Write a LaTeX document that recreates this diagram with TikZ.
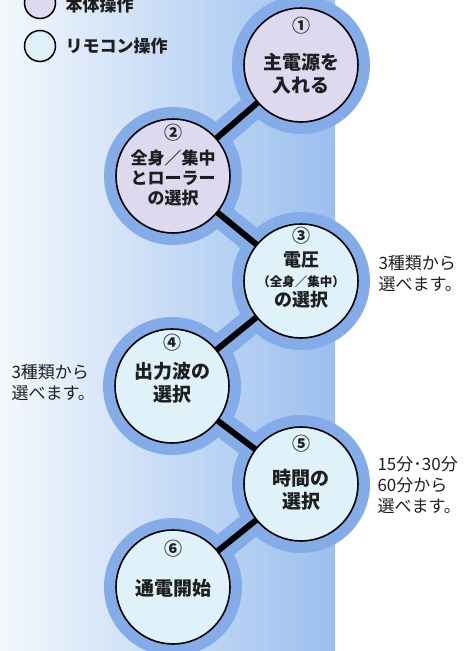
\documentclass[tikz,border=0pt]{standalone}
\usepackage{fontspec}
\setmainfont{Noto Sans CJK JP}
\definecolor{ringblue}{HTML}{84ACE8}
\definecolor{bgright}{HTML}{9BBFEE}
\definecolor{bgleft}{HTML}{F4F8FD}
\definecolor{lav}{HTML}{DDD9EF}
\definecolor{cyanf}{HTML}{DFF2FA}
\definecolor{ink}{HTML}{1E1E1E}
\tikzset{
  ring/.style={circle, fill=ringblue, minimum size=138pt, inner sep=0pt},
  band/.style={ringblue, line width=26pt},
  conn/.style={black, line width=6pt},
  stepcircle/.style={circle, draw=black, line width=1.6pt, minimum size=114pt, inner sep=0pt},
  body/.style={circle, stepcircle, fill=lav},
  remote/.style={circle, stepcircle, fill=cyanf},
  legendbox/.style={circle, draw=black, line width=1.5pt, minimum size=31pt, inner sep=0pt},
  num/.style={text=ink, font=\bfseries\fontsize{18}{18}\selectfont},
  ctext/.style={text=ink, align=center, font=\bfseries\fontsize{19}{23}\selectfont},
  side/.style={text=ink, align=left, anchor=west, font=\fontsize{17}{21}\selectfont},
  legtext/.style={text=ink, anchor=west, font=\bfseries\fontsize{17}{20}\selectfont}
}
\begin{document}
\begin{tikzpicture}[x=1pt,y=-1pt]
\useasboundingbox (0,0) rectangle (470,651);
\shade[left color=bgleft, right color=bgright] (0,0) rectangle (335,651);

% rings
\node[ring] (r1) at (301,65) {};
\node[ring] (r2) at (173,176) {};
\node[ring] (r3) at (301,281) {};
\node[ring] (r4) at (172,386) {};
\node[ring] (r5) at (301,484) {};
\node[ring] (r6) at (173,587) {};

% connectors
\draw[band] (r1.center) -- (r2.center) -- (r3.center) -- (r4.center) -- (r5.center) -- (r6.center);
\draw[conn] (r1.center) -- (r2.center);
\draw[conn] (r2.center) -- (r3.center);
\draw[conn] (r3.center) -- (r4.center);
\draw[conn] (r4.center) -- (r5.center);
\draw[conn] (r5.center) -- (r6.center);

% step circles
\node[body] (c1) at (r1.center) {};
\node[body] (c2) at (r2.center) {};
\node[remote] (c3) at (r3.center) {};
\node[remote] (c4) at (r4.center) {};
\node[remote] (c5) at (r5.center) {};
\node[remote] (c6) at (r6.center) {};

% numbers
\node[num] (n1) at (301,26) {①};
\node[num] (n2) at (173,133) {②};
\node[num] (n3) at (301,236) {③};
\node[num] (n4) at (172,343) {④};
\node[num] (n5) at (301,444) {⑤};
\node[num] (n6) at (173,549) {⑥};

% texts
\node[ctext] (t1) at (301,74) {主電源を\\入れる};
\node[ctext, font=\bfseries\fontsize{17}{20}\selectfont] (t2) at (173,178) {全身／集中\\とローラー\\の選択};
\node[ctext, font=\bfseries\fontsize{18}{20}\selectfont] (t3) at (301,280) {電圧\\{\fontsize{12.5}{14}\selectfont （全身／集中）}\\の選択};
\node[ctext] (t4) at (172,383) {出力波の\\選択};
\node[ctext] (t5) at (301,490) {時間の\\選択};
\node[ctext] (t6) at (173,588) {通電開始};

% side notes
\node[side] (s3) at (375,274) {3種類から\\選べます。};
\node[side] (s4) at (8,383) {3種類から\\選べます。};
\node[side] (s5) at (374,485) {15分･30分\\60分から\\選べます。};

% legend
\node[legendbox, fill=lav] (l1) at (40,3) {};
\node[legendbox, fill=cyanf] (l2) at (40,46) {};
\node[legtext] (lt1) at (62,5) {本体操作};
\node[legtext] (lt2) at (62,46) {リモコン操作};
\end{tikzpicture}
\end{document}
